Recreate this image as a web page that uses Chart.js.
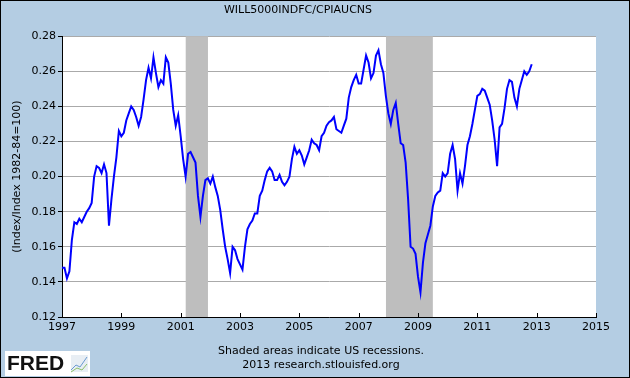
<!DOCTYPE html>
<html>
<head>
<meta charset="utf-8">
<script src="https://cdn.jsdelivr.net/npm/chart.js@4/dist/chart.umd.min.js"></script>
<style>
  body { margin: 0; background: #B4CDE3; }
  #wrap { width: 630px; height: 378px; }
</style>
</head>
<body>
<div id="wrap"><canvas id="fredChart" width="630" height="378"></canvas></div>
<script>
// monthly series, starting Jan 1997
const startYear = 1997;
const ratio = [
  0.148, 0.148, 0.142, 0.146, 0.164, 0.174, 0.173, 0.176, 0.174, 0.177, 0.180, 0.182,
  0.185, 0.200, 0.206, 0.205, 0.202, 0.207, 0.202, 0.172, 0.187, 0.200, 0.211, 0.226,
  0.223, 0.225, 0.232, 0.236, 0.240, 0.238, 0.234, 0.229, 0.234, 0.244, 0.255, 0.262,
  0.256, 0.268, 0.259, 0.251, 0.255, 0.253, 0.268, 0.265, 0.253, 0.238, 0.229, 0.235,
  0.223, 0.210, 0.200, 0.213, 0.214, 0.211, 0.208, 0.189, 0.177, 0.189, 0.198, 0.199,
  0.196, 0.200, 0.194, 0.189, 0.181, 0.170, 0.160, 0.153, 0.145, 0.160, 0.158, 0.153,
  0.150, 0.147, 0.160, 0.170, 0.173, 0.175, 0.179, 0.179, 0.189, 0.192, 0.198, 0.203,
  0.205, 0.203, 0.198, 0.198, 0.201, 0.197, 0.195, 0.197, 0.200, 0.210, 0.217, 0.213,
  0.215, 0.212, 0.207, 0.211, 0.215, 0.221, 0.219, 0.218, 0.215, 0.223, 0.225, 0.229,
  0.231, 0.232, 0.234, 0.227, 0.226, 0.225, 0.229, 0.233, 0.245, 0.251, 0.255, 0.258,
  0.253, 0.253, 0.261, 0.269, 0.265, 0.256, 0.259, 0.269, 0.272, 0.264, 0.259, 0.246,
  0.236, 0.230, 0.238, 0.242, 0.230, 0.219, 0.218, 0.208, 0.187, 0.160, 0.159, 0.156,
  0.143, 0.134, 0.151, 0.162, 0.167, 0.172, 0.183, 0.189, 0.191, 0.192, 0.202, 0.200,
  0.202, 0.213, 0.218, 0.210, 0.192, 0.202, 0.196, 0.206, 0.218, 0.223, 0.230, 0.238,
  0.246, 0.247, 0.250, 0.249, 0.245, 0.241, 0.232, 0.221, 0.206, 0.228, 0.230, 0.239,
  0.250, 0.255, 0.254, 0.245, 0.240, 0.250, 0.255, 0.260, 0.258, 0.260, 0.264
];

const recessionStart = [2001.17, 2007.92];
const recessionEnd = [2001.92, 2009.50];

const yTicks = [0.12, 0.14, 0.16, 0.18, 0.20, 0.22, 0.24, 0.26, 0.28];
const xTicks = [1997, 1999, 2001, 2003, 2005, 2007, 2009, 2011, 2013, 2015];

const points = ratio.map((v, i) => ({ x: startYear + i / 12, y: v }));

const FONT = 'DejaVu Sans';

const fredDecor = {
  id: 'fredDecor',
  beforeDraw(chart) {
    const ctx = chart.ctx;
    const a = chart.chartArea;
    ctx.save();
    ctx.fillStyle = '#B4CDE3';
    ctx.fillRect(0, 0, chart.width, chart.height);
    ctx.fillStyle = '#ffffff';
    ctx.fillRect(a.left, a.top, a.right - a.left, a.bottom - a.top);
    ctx.restore();
  },
  beforeDatasetsDraw(chart) {
    const ctx = chart.ctx;
    const a = chart.chartArea;
    const xs = chart.scales.x;
    ctx.save();
    ctx.fillStyle = '#BEBEBE';
    recessionStart.forEach((s, i) => {
      const x1 = xs.getPixelForValue(s);
      const x2 = xs.getPixelForValue(recessionEnd[i]);
      ctx.fillRect(x1, a.top, x2 - x1, a.bottom - a.top);
    });
    ctx.restore();
  },
  afterDraw(chart) {
    const ctx = chart.ctx;
    const a = chart.chartArea;
    const xs = chart.scales.x;
    ctx.save();
    // inward x ticks
    ctx.strokeStyle = '#000';
    ctx.lineWidth = 1;
    xTicks.forEach(t => {
      const x = Math.round(xs.getPixelForValue(t)) + 0.5;
      ctx.beginPath();
      ctx.moveTo(x, a.bottom);
      ctx.lineTo(x, a.bottom - 4);
      ctx.stroke();
    });
    // footer
    ctx.fillStyle = '#000';
    ctx.font = '11px "' + FONT + '"';
    ctx.textAlign = 'center';
    ctx.textBaseline = 'middle';
    ctx.fillText('Shaded areas indicate US recessions.', 321, 351);
    ctx.fillText('2013 research.stlouisfed.org', 321, 365);
    // logo
    ctx.fillStyle = '#ffffff';
    ctx.fillRect(5, 351, 85, 25);
    ctx.fillStyle = '#111';
    ctx.font = 'bold 21px "Liberation Sans"';
    ctx.textAlign = 'left';
    ctx.fillText('FRED', 7, 364);
    ctx.fillStyle = '#E8EEF4';
    ctx.fillRect(71, 355, 17, 17);
    ctx.strokeStyle = '#6a9ad0';
    ctx.beginPath();
    ctx.moveTo(71, 370); ctx.lineTo(76, 365); ctx.lineTo(80, 367); ctx.lineTo(87, 357);
    ctx.stroke();
    ctx.strokeStyle = '#8cc06a';
    ctx.beginPath();
    ctx.moveTo(71, 372); ctx.lineTo(77, 368); ctx.lineTo(82, 370); ctx.lineTo(87, 364);
    ctx.stroke();
    // outer frame
    ctx.strokeStyle = '#000';
    ctx.strokeRect(0.5, 0.5, chart.width - 1, chart.height - 1);
    ctx.restore();
  }
};

new Chart(document.getElementById('fredChart'), {
  type: 'line',
  data: {
    datasets: [{
      label: 'WILL5000INDFC/CPIAUCNS',
      data: points,
      borderColor: '#0000FF',
      borderWidth: 2,
      pointRadius: 0,
      tension: 0,
      fill: false
    }]
  },
  options: {
    responsive: false,
    animation: false,
    layout: { padding: { left: 0, right: 34, top: 0, bottom: 0 } },
    plugins: {
      legend: { display: false },
      tooltip: { enabled: false },
      title: {
        display: true,
        text: 'WILL5000INDFC/CPIAUCNS',
        color: '#000',
        font: { family: FONT, size: 11, weight: 'normal' },
        padding: { top: 4, bottom: 19 }
      }
    },
    scales: {
      x: {
        type: 'linear',
        min: 1997,
        max: 2015,
        afterBuildTicks: s => { s.ticks = xTicks.map(v => ({ value: v })); },
        afterFit: s => { s.height = 61; },
        ticks: {
          color: '#000',
          font: { family: FONT, size: 11 },
          padding: 4,
          maxRotation: 0,
          autoSkip: false,
          callback: v => String(v)
        },
        grid: { drawOnChartArea: false, drawTicks: false },
        border: { color: '#000', width: 1 }
      },
      y: {
        min: 0.12,
        max: 0.28,
        afterBuildTicks: s => { s.ticks = yTicks.map(v => ({ value: v })); },
        afterFit: s => { s.width = 62; },
        ticks: {
          color: '#000',
          font: { family: FONT, size: 11 },
          padding: 2,
          callback: v => v.toFixed(2)
        },
        grid: { color: '#AAAAAA', tickColor: '#000', tickLength: 4 },
        border: { color: '#000', width: 1 },
        title: {
          display: true,
          text: '(Index/Index 1982-84=100)',
          color: '#000',
          font: { family: FONT, size: 11 },
          padding: { top: 11, bottom: 0 }
        }
      }
    }
  },
  plugins: [fredDecor]
});
</script>
</body>
</html>
